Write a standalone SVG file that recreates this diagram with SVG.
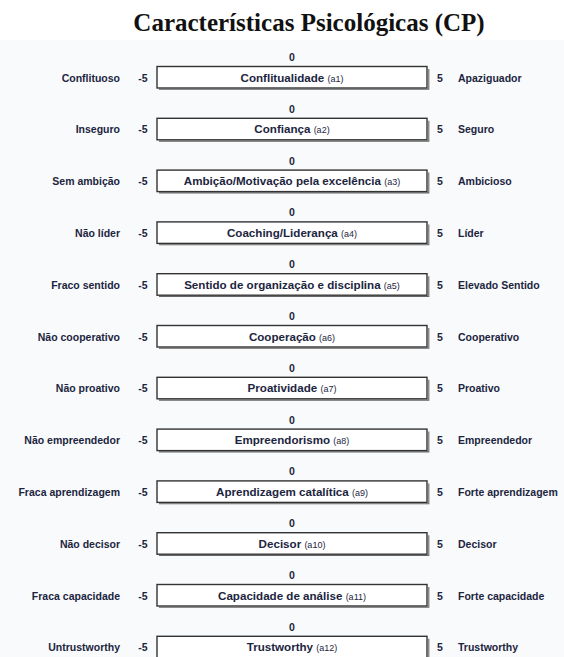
<svg xmlns="http://www.w3.org/2000/svg" width="564" height="657" viewBox="0 0 564 657">
<style>
.title{font-family:"Liberation Serif",serif;font-weight:bold;font-size:25px;fill:#111;text-anchor:middle}
.lbl{font-family:"Liberation Sans",Arial,sans-serif;font-size:10.5px;font-weight:bold;fill:#1c2540}
.in{font-size:11.6px}
.l{text-anchor:end}
.c{text-anchor:middle}
.sm{font-size:9px;font-weight:normal}
.box{fill:#ffffff;stroke:#333;stroke-width:1.4}
.sh{fill:none;stroke:#666;stroke-width:1.1}
</style>
<defs>
<g id="bx">
<path class="sh" d="M271.8 2.5 V22.8 H2"/>
<rect class="box" x="0" y="0" width="270" height="21.5"/>
</g>
</defs>
<rect x="0" y="0" width="564" height="657" fill="#ffffff"/>
<rect x="0" y="40" width="564" height="617" fill="#f9fafc"/>
<text class="title" x="309" y="31">Características Psicológicas (CP)</text>
<g id="connectors"></g>

<g id="r1" transform="translate(0,66.5)">
<text class="lbl c" x="292" y="-5.5">0</text>
<text class="lbl l" x="120" y="15">Conflituoso</text>
<text class="lbl c" x="143" y="15">-5</text>
<use href="#bx" x="157" y="0"/>
<text class="lbl in c" x="292" y="15">Conflitualidade <tspan class="sm">(a1)</tspan></text>
<text class="lbl c" x="440" y="15">5</text>
<text class="lbl" x="458" y="15">Apaziguador</text>
</g>
<g id="r2" transform="translate(0,118.3)">
<text class="lbl c" x="292" y="-5.5">0</text>
<text class="lbl l" x="120" y="15">Inseguro</text>
<text class="lbl c" x="143" y="15">-5</text>
<use href="#bx" x="157" y="0"/>
<text class="lbl in c" x="292" y="15">Confiança <tspan class="sm">(a2)</tspan></text>
<text class="lbl c" x="440" y="15">5</text>
<text class="lbl" x="458" y="15">Seguro</text>
</g>
<g id="r3" transform="translate(0,170.1)">
<text class="lbl c" x="292" y="-5.5">0</text>
<text class="lbl l" x="120" y="15">Sem ambição</text>
<text class="lbl c" x="143" y="15">-5</text>
<use href="#bx" x="157" y="0"/>
<text class="lbl in c" x="292" y="15">Ambição/Motivação pela excelência <tspan class="sm">(a3)</tspan></text>
<text class="lbl c" x="440" y="15">5</text>
<text class="lbl" x="458" y="15">Ambicioso</text>
</g>
<g id="r4" transform="translate(0,221.9)">
<text class="lbl c" x="292" y="-5.5">0</text>
<text class="lbl l" x="120" y="15">Não líder</text>
<text class="lbl c" x="143" y="15">-5</text>
<use href="#bx" x="157" y="0"/>
<text class="lbl in c" x="292" y="15">Coaching/Liderança <tspan class="sm">(a4)</tspan></text>
<text class="lbl c" x="440" y="15">5</text>
<text class="lbl" x="458" y="15">Líder</text>
</g>
<g id="r5" transform="translate(0,273.7)">
<text class="lbl c" x="292" y="-5.5">0</text>
<text class="lbl l" x="120" y="15">Fraco sentido</text>
<text class="lbl c" x="143" y="15">-5</text>
<use href="#bx" x="157" y="0"/>
<text class="lbl in c" x="292" y="15">Sentido de organização e disciplina <tspan class="sm">(a5)</tspan></text>
<text class="lbl c" x="440" y="15">5</text>
<text class="lbl" x="458" y="15">Elevado Sentido</text>
</g>
<g id="r6" transform="translate(0,325.5)">
<text class="lbl c" x="292" y="-5.5">0</text>
<text class="lbl l" x="120" y="15">Não cooperativo</text>
<text class="lbl c" x="143" y="15">-5</text>
<use href="#bx" x="157" y="0"/>
<text class="lbl in c" x="292" y="15">Cooperação <tspan class="sm">(a6)</tspan></text>
<text class="lbl c" x="440" y="15">5</text>
<text class="lbl" x="458" y="15">Cooperativo</text>
</g>
<g id="r7" transform="translate(0,377.3)">
<text class="lbl c" x="292" y="-5.5">0</text>
<text class="lbl l" x="120" y="15">Não proativo</text>
<text class="lbl c" x="143" y="15">-5</text>
<use href="#bx" x="157" y="0"/>
<text class="lbl in c" x="292" y="15">Proatividade <tspan class="sm">(a7)</tspan></text>
<text class="lbl c" x="440" y="15">5</text>
<text class="lbl" x="458" y="15">Proativo</text>
</g>
<g id="r8" transform="translate(0,429.1)">
<text class="lbl c" x="292" y="-5.5">0</text>
<text class="lbl l" x="120" y="15">Não empreendedor</text>
<text class="lbl c" x="143" y="15">-5</text>
<use href="#bx" x="157" y="0"/>
<text class="lbl in c" x="292" y="15">Empreendorismo <tspan class="sm">(a8)</tspan></text>
<text class="lbl c" x="440" y="15">5</text>
<text class="lbl" x="458" y="15">Empreendedor</text>
</g>
<g id="r9" transform="translate(0,480.9)">
<text class="lbl c" x="292" y="-5.5">0</text>
<text class="lbl l" x="120" y="15">Fraca aprendizagem</text>
<text class="lbl c" x="143" y="15">-5</text>
<use href="#bx" x="157" y="0"/>
<text class="lbl in c" x="292" y="15">Aprendizagem catalítica <tspan class="sm">(a9)</tspan></text>
<text class="lbl c" x="440" y="15">5</text>
<text class="lbl" x="458" y="15">Forte aprendizagem</text>
</g>
<g id="r10" transform="translate(0,532.7)">
<text class="lbl c" x="292" y="-5.5">0</text>
<text class="lbl l" x="120" y="15">Não decisor</text>
<text class="lbl c" x="143" y="15">-5</text>
<use href="#bx" x="157" y="0"/>
<text class="lbl in c" x="292" y="15">Decisor <tspan class="sm">(a10)</tspan></text>
<text class="lbl c" x="440" y="15">5</text>
<text class="lbl" x="458" y="15">Decisor</text>
</g>
<g id="r11" transform="translate(0,584.5)">
<text class="lbl c" x="292" y="-5.5">0</text>
<text class="lbl l" x="120" y="15">Fraca capacidade</text>
<text class="lbl c" x="143" y="15">-5</text>
<use href="#bx" x="157" y="0"/>
<text class="lbl in c" x="292" y="15">Capacidade de análise <tspan class="sm">(a11)</tspan></text>
<text class="lbl c" x="440" y="15">5</text>
<text class="lbl" x="458" y="15">Forte capacidade</text>
</g>
<g id="r12" transform="translate(0,636.3)">
<text class="lbl c" x="292" y="-5.5">0</text>
<text class="lbl l" x="120" y="15">Untrustworthy</text>
<text class="lbl c" x="143" y="15">-5</text>
<use href="#bx" x="157" y="0"/>
<text class="lbl in c" x="292" y="15">Trustworthy <tspan class="sm">(a12)</tspan></text>
<text class="lbl c" x="440" y="15">5</text>
<text class="lbl" x="458" y="15">Trustworthy</text>
</g>
</svg>
